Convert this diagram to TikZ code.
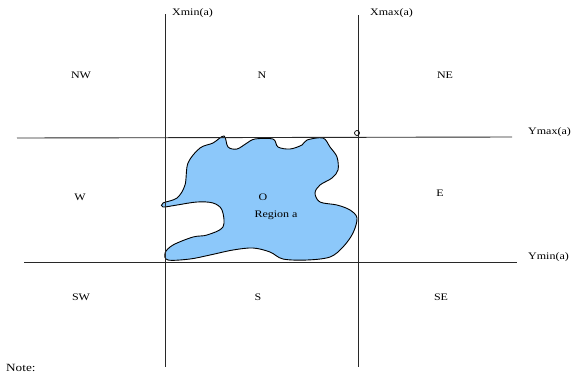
\documentclass[tikz,border=0pt]{standalone}
\usepackage{fontspec}
\setmainfont[FakeStretch=1.2]{Liberation Serif}
\definecolor{regionblue}{RGB}{140,200,250}
\definecolor{linegray}{RGB}{40,40,40}
\begin{document}
\begin{tikzpicture}[x=1pt,y=-1pt,
  gridline/.style={draw=linegray,line width=0.9pt},
  zone/.style={font=\fontsize{10}{11}\selectfont,inner sep=0pt},
  axislabel/.style={font=\fontsize{10}{11}\selectfont,inner sep=0pt,anchor=west},
  blob/.style={draw=black,line width=0.9pt,fill=regionblue}]
\useasboundingbox (0,0) rectangle (577,381);
% coordinates of line ends
\coordinate (v1t) at (165,14);
\coordinate (v1b) at (165,367);
\coordinate (v2t) at (358,15);
\coordinate (v2b) at (358,367);
\coordinate (h1l) at (17,138);
\coordinate (h1r) at (512,137);
\coordinate (h2l) at (24,262);
\coordinate (h2r) at (517,262);
% region
\path[blob] plot[smooth cycle,tension=0.55] coordinates {
 (224,136) (228,147) (237,149) (247,143) (255,139) (273,139) (278,147)
 (290,149) (302,145) (307,140) (323,138) (330,147) (337,157) (338,170)
 (332,178) (320,185) (315,193) (320,202) (337,205) (350,210) (357,218)
 (353,233) (343,247) (330,257) (307,260) (283,259) (270,252) (253,248)
 (233,250) (210,255) (190,259) (168,260) (165,253) (173,245) (193,237)
 (207,235) (223,227) (222,210) (213,203) (197,202) (177,205) (163,207)
 (163,203) (177,198) (185,185) (188,163) (200,148) (213,143)};
% grid lines
\draw[gridline] (v1t) -- (v1b);
\draw[gridline] (v2t) -- (v2b);
\draw[gridline] (h1l) -- (h1r);
\draw[gridline] (h2l) -- (h2r);
\node[draw=black,circle,line width=0.7pt,minimum size=5pt,inner sep=0pt] (corner) at (357,133) {};
% axis labels
\node[axislabel] (xmin) at (172,13) {Xmin(a)};
\node[axislabel] (xmax) at (370,13) {Xmax(a)};
\node[axislabel] (ymax) at (528,132) {Ymax(a)};
\node[axislabel] (ymin) at (528,257) {Ymin(a)};
% zone labels
\node[zone] (nw) at (81,75) {NW};
\node[zone] (n) at (262,75) {N};
\node[zone] (ne) at (445,75) {NE};
\node[zone] (w) at (80,197) {W};
\node[zone] (e) at (440,193) {E};
\node[zone] (sw) at (81,297) {SW};
\node[zone] (s) at (258,297) {S};
\node[zone] (se) at (441,297) {SE};
\node[zone] (o) at (263,197) {O};
\node[zone] (reg) at (276,215) {Region a};
\node[zone,anchor=west,font=\fontsize{11}{12}\selectfont] (note) at (6,368) {Note:};
\end{tikzpicture}
\end{document}
